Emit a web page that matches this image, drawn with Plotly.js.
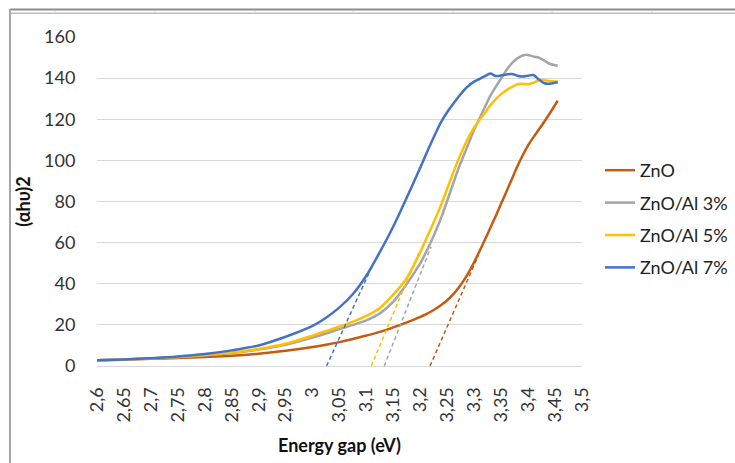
<!DOCTYPE html>
<html>
<head>
<meta charset="utf-8">
<script src="https://cdn.plot.ly/plotly-3.0.1.min.js"></script>
<style>
html,body{margin:0;padding:0;background:#fff;}
#chart{width:735px;height:463px;}
</style>
</head>
<body>
<div id="chart"></div>
<script>
// ---- data ----
const seriesNames = ['ZnO', 'ZnO/Al 3%', 'ZnO/Al 5%', 'ZnO/Al 7%'];
const seriesColors = ['#C55A11', '#A5A5A5', '#FFC000', '#4472C4'];

const energy = [2.6, 2.65, 2.7, 2.75, 2.8, 2.85, 2.9, 2.95, 3.0, 3.025, 3.05, 3.075, 3.1, 3.125, 3.15, 3.175,
  3.2, 3.21, 3.22, 3.23, 3.24, 3.25, 3.26, 3.27, 3.28, 3.29, 3.3, 3.31, 3.32, 3.33, 3.34, 3.35, 3.36, 3.37,
  3.38, 3.39, 3.4, 3.41, 3.42, 3.43, 3.44, 3.455];

const zno = [2.8, 3.1, 3.5, 3.9, 4.4, 5.0, 6.0, 7.4, 9.2, 10.3, 11.6, 13.1, 14.8, 16.6, 18.8, 21.2,
  23.9, 25.1, 26.5, 28.1, 29.9, 32.0, 34.6, 37.7, 41.4, 45.7, 50.6, 55.9, 61.5, 67.2, 73.0, 79.0, 85.0, 91.0,
  97.0, 102.5, 107.3, 111.3, 115.0, 118.8, 122.8, 129.0];

const al3 = [2.8, 3.2, 3.7, 4.3, 5.2, 6.3, 8.0, 10.3, 13.8, 15.8, 18.0, 20.0, 22.2, 25.6, 31.3, 40.0,
  50.0, 55.0, 60.5, 66.5, 73.0, 80.5, 88.0, 95.5, 102.0, 108.5, 115.0, 120.5, 126.0, 131.5, 135.8, 139.8, 144.0, 147.3,
  149.6, 151.0, 151.3, 150.5, 150.0, 148.5, 147.0, 146.0];

const al5 = [2.8, 3.2, 3.7, 4.4, 5.3, 6.5, 8.3, 10.8, 14.8, 17.0, 19.2, 21.6, 24.4, 28.2, 34.8, 42.8,
  55.5, 61.3, 67.0, 73.0, 79.3, 86.3, 93.3, 100.0, 106.0, 111.5, 116.0, 119.7, 123.2, 126.8, 129.8, 132.2, 134.2, 135.6,
  137.0, 137.3, 137.0, 137.8, 139.0, 139.0, 138.6, 138.3];

const al7 = [2.8, 3.2, 3.8, 4.6, 5.8, 7.6, 10.0, 14.2, 19.5, 23.5, 28.5, 35.0, 44.0, 55.5, 68.0, 82.0,
  96.5, 102.6, 108.5, 114.2, 119.3, 123.5, 127.2, 130.6, 133.8, 136.4, 138.3, 139.6, 141.0, 142.2, 141.0, 141.3, 141.8, 142.0,
  141.2, 140.8, 141.2, 141.5, 139.3, 137.5, 137.3, 138.0];

// tangent (extrapolation) lines: from (startX, 0) to (endX, endY)
const tangentStartX = [3.218, 3.133, 3.109, 3.026];
const tangentEndX = [3.308, 3.22, 3.197, 3.113];
const tangentEndY = [54, 58, 55, 50];

const xTickLabels = ['2,6','2,65','2,7','2,75','2,8','2,85','2,9','2,95','3','3,05','3,1','3,15','3,2','3,25','3,3','3,35','3,4','3,45','3,5'];
const yTickVals = [0, 20, 40, 60, 80, 100, 120, 140, 160];

// ---- build ----
const seriesValues = [zno, al3, al5, al7];
const FONT = 'Lato, "Open Sans", sans-serif';

const traces = [];
seriesValues.forEach((vals, i) => {
  traces.push({
    x: energy, y: vals, type: 'scatter', mode: 'lines', name: seriesNames[i],
    line: {color: seriesColors[i], width: 2.5, shape: 'spline', smoothing: 0.8},
    legendgroup: 'g' + i
  });
});
seriesValues.forEach((vals, i) => {
  traces.push({
    x: [tangentStartX[i], tangentEndX[i]], y: [0, tangentEndY[i]],
    type: 'scatter', mode: 'lines', showlegend: false, hoverinfo: 'skip',
    line: {color: seriesColors[i], width: 1.5, dash: '4px,3px'}
  });
});

const L = 97, R = 582, T = 37, B = 366;
const px = v => (v - L) / (R - L);
const py = v => (B - v) / (B - T);

const shapes = [
  {type:'line', xref:'paper', yref:'paper', x0:px(10), x1:px(735), y0:py(9.5), y1:py(9.5), line:{color:'#8c8c8c', width:2}},
  {type:'line', xref:'paper', yref:'paper', x0:px(10), x1:px(735), y0:py(13.3), y1:py(13.3), line:{color:'#bdbdbd', width:1.5}},
  {type:'line', xref:'paper', yref:'paper', x0:px(10), x1:px(10), y0:py(9), y1:py(463), line:{color:'#a6a6a6', width:2}}
];
[55, 155, 255, 353, 453, 552, 652].forEach(c => {
  shapes.push({type:'line', xref:'paper', yref:'paper', x0:px(c), x1:px(c), y0:py(10.5), y1:py(12.5), line:{color:'#d0d0d0', width:1}});
});

const layout = {
  width: 735, height: 463,
  margin: {l: L, r: 735 - R, t: T, b: 463 - B, pad: 0, autoexpand: false},
  paper_bgcolor: '#fff', plot_bgcolor: '#fff',
  font: {family: FONT, size: 18, color: '#333'},
  showlegend: true,
  legend: {
    x: px(600), xanchor: 'left', y: py(152), yanchor: 'top',
    font: {family: FONT, size: 18, color: '#222'},
    tracegroupgap: 6, traceorder: 'grouped', bgcolor: 'rgba(0,0,0,0)'
  },
  xaxis: {
    range: [2.6, 3.5], tickvals: xTickLabels.map(s => parseFloat(s.replace(',', '.'))), ticktext: xTickLabels,
    tickangle: -90, ticks: 'outside', ticklen: 13, tickcolor: 'rgba(0,0,0,0)',
    showgrid: false, zeroline: false, showline: true, linecolor: '#d9d9d9', linewidth: 1,
    tickfont: {family: FONT, size: 18, color: '#333'},
    title: {text: 'Energy gap (eV)', font: {family: FONT, size: 18, color: '#111', weight: 'bold'}, standoff: 17},
    fixedrange: true
  },
  yaxis: {
    range: [0, 160], tickvals: yTickVals, ticks: 'outside', ticklen: 17, tickcolor: 'rgba(0,0,0,0)',
    showgrid: true, gridcolor: '#d9d9d9', gridwidth: 1, zeroline: false, showline: false,
    tickfont: {family: FONT, size: 18, color: '#333'},
    title: {text: '(αhυ)2', font: {family: FONT, size: 18, color: '#111', weight: 'bold'}, standoff: 8},
    fixedrange: true
  },
  shapes: shapes
};

Plotly.newPlot('chart', traces, layout, {displayModeBar: false, staticPlot: true});
</script>
</body>
</html>
